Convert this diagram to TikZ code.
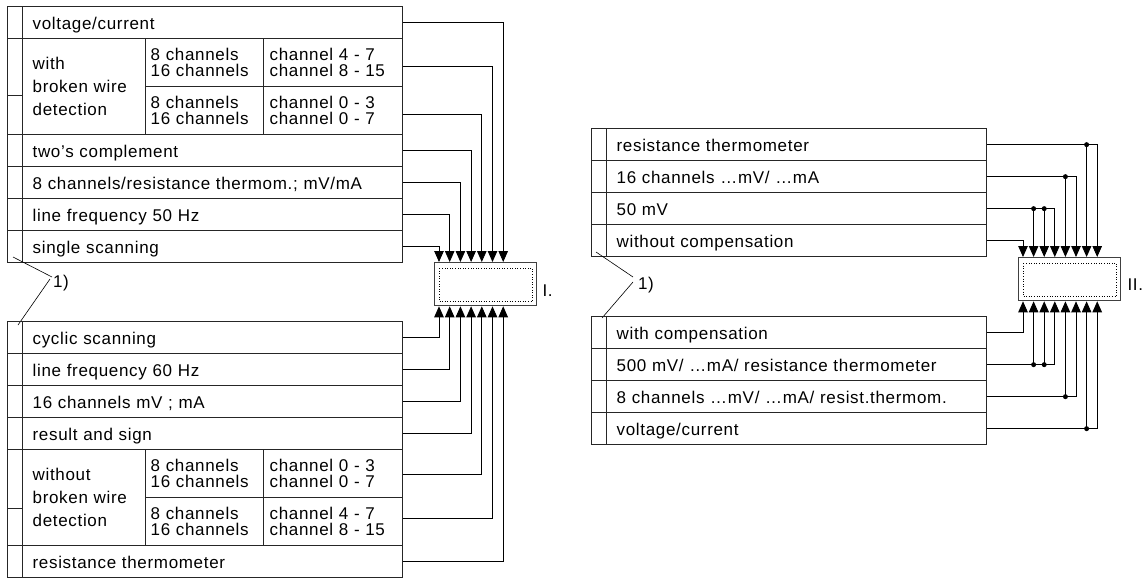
\documentclass[tikz,border=0pt]{standalone}
\usepackage{fontspec}
\setmainfont{Liberation Sans}[LetterSpace=4,WordSpace=1.65]
\usetikzlibrary{arrows.meta,positioning}

\newcommand{\lblfont}{\fontsize{17}{16}\selectfont}

\begin{document}
\begin{tikzpicture}[
    x=1pt, y=-1pt,
    cell/.style={draw=black!85, line width=1.3pt, anchor=north west, inner xsep=10pt, inner ysep=0pt, minimum height=32pt, align=left, font=\lblfont, text height=15pt, text depth=2pt},
    wide/.style={cell, text width=360pt},
    side/.style={draw=black!85, line width=1.3pt, anchor=north west, minimum width=15pt, minimum height=#1, inner sep=0pt},
    side/.default=32pt,
    pair/.style={cell, inner xsep=5pt, minimum height=48pt, text height={}, text depth={}},
    wire/.style={cell, text width=103pt, minimum height=96pt, text height={}, text depth={}, font=\fontsize{17}{23}\selectfont},
    unit/.style={draw=black!75, line width=1.3pt, anchor=north west, minimum width=102pt, minimum height=43pt, inner sep=0pt},
    feed/.style={-{Triangle[length=11pt,width=9.5pt]}, line width=0.9pt},
    note/.style={line width=0.6pt}
]
    \useasboundingbox (0,0) rectangle (1142,579);

    % --- UNIT I ---
    \node[unit] (boxI) at (434,262) {};
    \draw[dotted, line width=0.6pt] ([shift={(5,6)}]boxI.north west) rectangle ([shift={(-5,-5)}]boxI.south east);
    \node[font=\lblfont, anchor=west, inner sep=0pt] (labI) at ([shift={(5,6)}]boxI.east) {I.};
    \foreach \i in {1,...,7} {
        \coordinate (t\i) at ([xshift={5+10.7*(\i-1)}]boxI.north west);
        \coordinate (u\i) at ([xshift={5+10.7*(\i-1)}]boxI.south west);
    }

    % --- TABLE I, UPPER PART ---
    \node[side] (s1) at (7,6) {};
    \node[wide] (a1) at (22,6) {voltage/current};
    \node[side=57] (s2) at (7,38) {};
    \node[side=39] (s3) at (7,95) {};
    \node[wire] (a2) at (22,38) {with\\broken wire\\detection};
    \node[pair, text width=108pt] (a3) at (145,38) {8 channels\\16 channels};
    \node[pair, inner xsep=6pt, text width=127pt] (c1) at (263,38) {channel 4 - 7\\channel 8 - 15};
    \node[pair, text width=108pt] (a4) at (145,86) {8 channels\\16 channels};
    \node[pair, inner xsep=6pt, text width=127pt] (c2) at (263,86) {channel 0 - 3\\channel 0 - 7};
    \node[side] (s4) at (7,134) {};
    \node[wide] (a5) at (22,134) {two’s complement};
    \node[side] (s5) at (7,166) {};
    \node[wide] (a6) at (22,166) {8 channels/resistance thermom.; mV/mA};
    \node[side] (s6) at (7,198) {};
    \node[wide] (a7) at (22,198) {line frequency 50 Hz};
    \node[side] (s7) at (7,230) {};
    \node[wide] (a8) at (22,230) {single scanning};

    \draw[feed] (a1.east) -| (t7);
    \draw[feed] ([yshift=-4pt]c1.east) -| (t6);
    \draw[feed] ([yshift=-4pt]c2.east) -| (t5);
    \draw[feed] (a5.east) -| (t4);
    \draw[feed] (a6.east) -| (t3);
    \draw[feed] (a7.east) -| (t2);
    \draw[feed] (a8.east) -| (t1);

    % footnote mark between the two parts
    \node[font=\lblfont, inner sep=0pt] (n1) at (61,283) {1)};
    \coordinate (n1a) at (13,257);
    \coordinate (n1b) at (18,325);
    \draw[note] (n1a) -- ([shift={(-9,-6)}]n1.center);
    \draw[note] ([shift={(-11,-4)}]n1.center) -- (n1b);

    % --- TABLE I, LOWER PART ---
    \node[side] (s8) at (7,321) {};
    \node[wide] (b1) at (22,321) {cyclic scanning};
    \node[side] (s9) at (7,353) {};
    \node[wide] (b2) at (22,353) {line frequency 60 Hz};
    \node[side] (s10) at (7,385) {};
    \node[wide] (b3) at (22,385) {16 channels mV ; mA};
    \node[side] (s11) at (7,417) {};
    \node[wide] (b4) at (22,417) {result and sign};
    \node[side=59] (s12) at (7,449) {};
    \node[side=37] (s13) at (7,508) {};
    \node[wire] (b5) at (22,449) {without\\broken wire\\detection};
    \node[pair, text width=108pt] (b6) at (145,449) {8 channels\\16 channels};
    \node[pair, inner xsep=6pt, text width=127pt] (d1) at (263,449) {channel 0 - 3\\channel 0 - 7};
    \node[pair, text width=108pt] (b7) at (145,497) {8 channels\\16 channels};
    \node[pair, inner xsep=6pt, text width=127pt] (d2) at (263,497) {channel 4 - 7\\channel 8 - 15};
    \node[side] (s14) at (7,545) {};
    \node[wide] (b8) at (22,545) {resistance thermometer};

    \draw[feed] (b1.east) -| (u1);
    \draw[feed] (b2.east) -| (u2);
    \draw[feed] (b3.east) -| (u3);
    \draw[feed] (b4.east) -| (u4);
    \draw[feed] ([yshift=-1pt]d1.east) -| (u5);
    \draw[feed] ([yshift=3pt]d2.east) -| (u6);
    \draw[feed] (b8.east) -| (u7);

    % --- UNIT II ---
    \node[unit] (boxII) at (1018,257) {};
    \draw[dotted, line width=0.6pt] ([shift={(5,6)}]boxII.north west) rectangle ([shift={(-5,-5)}]boxII.south east);
    \node[font=\lblfont, anchor=west, inner sep=0pt] (labII) at ([shift={(6,5)}]boxII.east) {II.};
    \foreach \i in {1,...,8} {
        \coordinate (q\i) at ([xshift={5+10.6*(\i-1)}]boxII.north west);
        \coordinate (v\i) at ([xshift={5+10.6*(\i-1)}]boxII.south west);
    }

    % --- TABLE II, UPPER PART ---
    \node[side] (r1) at (591,128) {};
    \node[wide] (e1) at (606,128) {resistance thermometer};
    \node[side] (r2) at (591,160) {};
    \node[wide] (e2) at (606,160) {16 channels …mV/ …mA};
    \node[side] (r3) at (591,192) {};
    \node[wide] (e3) at (606,192) {50 mV};
    \node[side] (r4) at (591,224) {};
    \node[wide] (e4) at (606,224) {without compensation};

    \draw[feed] (e1.east) -| (q8);
    \draw[feed] (e1.east -| q7) -- (q7);
    \fill (e1.east -| q7) circle (2.5);
    \draw[feed] (e2.east) -| (q6);
    \draw[feed] (e2.east -| q5) -- (q5);
    \fill (e2.east -| q5) circle (2.5);
    \draw[feed] (e3.east) -| (q4);
    \draw[feed] (e3.east -| q3) -- (q3);
    \draw[feed] (e3.east -| q2) -- (q2);
    \fill (e3.east -| q3) circle (2.5);
    \fill (e3.east -| q2) circle (2.5);
    \draw[feed] (e4.east) -| (q1);

    % footnote mark between the two parts
    \node[font=\lblfont, inner sep=0pt] (n2) at (646,285) {1)};
    \coordinate (n2a) at (596,252);
    \coordinate (n2b) at (602,318);
    \draw[note] (n2a) -- ([shift={(-13,-8)}]n2.center);
    \draw[note] ([shift={(-13,-3)}]n2.center) -- (n2b);

    % --- TABLE II, LOWER PART ---
    \node[side] (r5) at (591,316) {};
    \node[wide] (f1) at (606,316) {with compensation};
    \node[side] (r6) at (591,348) {};
    \node[wide] (f2) at (606,348) {500 mV/ …mA/ resistance thermometer};
    \node[side] (r7) at (591,380) {};
    \node[wide] (f3) at (606,380) {8 channels …mV/ …mA/ resist.thermom.};
    \node[side] (r8) at (591,412) {};
    \node[wide] (f4) at (606,412) {voltage/current};

    \draw[feed] (f1.east) -| (v1);
    \draw[feed] (f2.east) -| (v4);
    \draw[feed] (f2.east -| v3) -- (v3);
    \draw[feed] (f2.east -| v2) -- (v2);
    \fill (f2.east -| v3) circle (2.5);
    \fill (f2.east -| v2) circle (2.5);
    \draw[feed] (f3.east) -| (v6);
    \draw[feed] (f3.east -| v5) -- (v5);
    \fill (f3.east -| v5) circle (2.5);
    \draw[feed] (f4.east) -| (v8);
    \draw[feed] (f4.east -| v7) -- (v7);
    \fill (f4.east -| v7) circle (2.5);
\end{tikzpicture}
\end{document}
